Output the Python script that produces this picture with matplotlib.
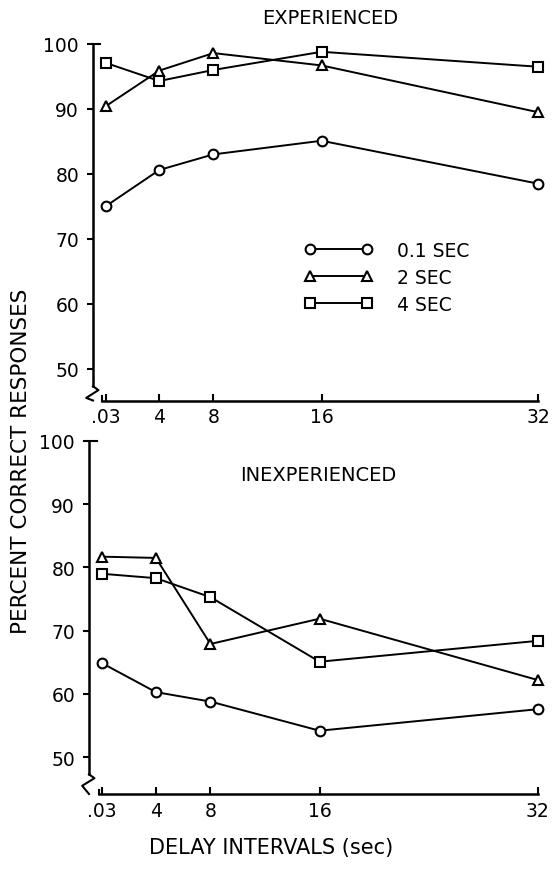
import matplotlib
matplotlib.use("Agg")
import matplotlib.pyplot as plt

# delay intervals (sec)
delays = [0.03, 4, 8, 16, 32]
delay_labels = [".03", "4", "8", "16", "32"]

# experienced
exp_01 = [75.0, 80.6, 83.0, 85.1, 78.5]
exp_2 = [90.4, 95.9, 98.6, 96.7, 89.5]
exp_4 = [97.1, 94.3, 96.0, 98.8, 96.5]

# inexperienced
inexp_01 = [64.9, 60.3, 58.8, 54.2, 57.6]
inexp_2 = [81.7, 81.5, 67.9, 71.9, 62.2]
inexp_4 = [79.0, 78.3, 75.3, 65.1, 68.4]

series_labels = ["0.1 SEC", "2 SEC", "4 SEC"]
markers = ["o", "^", "s"]
yticks = [50, 60, 70, 80, 90, 100]

W, H = 554, 870
fig = plt.figure(figsize=(W / 100, H / 100), dpi=100)

def px_axes(left, top, right, bottom):
    return fig.add_axes([left / W, 1 - bottom / H, (right - left) / W, (bottom - top) / H])

ax1 = px_axes(93, 38.5, 542, 401.5)
ax2 = px_axes(89, 435.5, 542, 795)


def style(ax, ylo):
    ax.set_xlim(-0.9, 32.3)
    ax.set_ylim(ylo, 101)
    for s in ["top", "right"]:
        ax.spines[s].set_visible(False)
    ax.spines["left"].set_linewidth(1.8)
    ax.spines["bottom"].set_linewidth(1.8)
    ax.spines["left"].set_bounds(47.3, 100)
    ax.spines["bottom"].set_bounds(-0.2, 32)
    ax.set_xticks(delays)
    ax.set_xticklabels(delay_labels)
    ax.set_yticks(yticks)
    ax.tick_params(axis="x", direction="in", length=5, width=1.5, labelsize=13.5, pad=5)
    ax.tick_params(axis="y", direction="out", length=4, width=1.5, labelsize=13.5, pad=6)
    # axis break zigzag between y axis and x axis
    ax.plot([-0.9, -0.5, -1.4, -0.9], [47.3, 46.7, 45.5, ylo], color="black",
            lw=1.5, clip_on=False)
    ax.plot([-0.2, -0.2], [ylo, ylo + 0.7], color="black", lw=1.5, clip_on=False)
    # small hook at the top of the y axis
    ax.plot([-0.9, -0.35], [100, 100], color="black", lw=1.5, clip_on=False)


def draw(ax, data):
    handles = []
    for vals, m, lab in zip(data, markers, series_labels):
        h, = ax.plot(delays, vals, color="black", lw=1.4, marker=m, markersize=7,
                     markerfacecolor="white", markeredgecolor="black",
                     markeredgewidth=1.5, label=lab, clip_on=False)
        handles.append(h)
    return handles


style(ax1, 45.1)
draw(ax1, [exp_01, exp_2, exp_4])
style(ax2, 44.2)
draw(ax2, [inexp_01, inexp_2, inexp_4])

leg = ax1.legend(loc="upper left", bbox_to_anchor=(0.455, 0.46), frameon=False,
                 numpoints=2, handlelength=3.6, handletextpad=1.3,
                 labelspacing=0.42, fontsize=13.5, borderaxespad=0)

fig.text(0.596, 0.979, "EXPERIENCED", ha="center", va="center", fontsize=14)
fig.text(0.574, 0.453, "INEXPERIENCED", ha="center", va="center", fontsize=14)
fig.text(0.038, 0.47, "PERCENT CORRECT RESPONSES", ha="center", va="center",
         rotation=90, fontsize=15.5)
fig.text(0.49, 0.025, "DELAY INTERVALS (sec)", ha="center", va="center", fontsize=15)

fig.savefig("out.png", dpi=100)
